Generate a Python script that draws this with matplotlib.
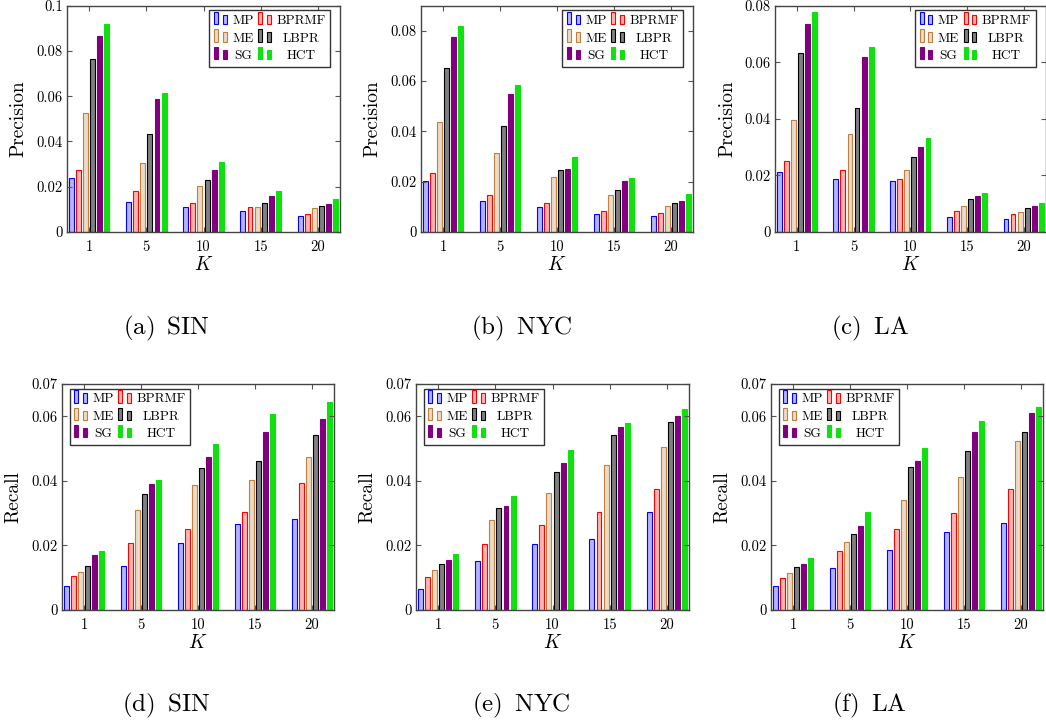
import numpy as np
import matplotlib
matplotlib.use("Agg")
import matplotlib.pyplot as plt
from matplotlib.patches import Patch, Rectangle
from matplotlib.legend_handler import HandlerBase
from matplotlib.ticker import FuncFormatter

plt.rcParams['font.family'] = 'serif'
plt.rcParams['font.serif'] = ['cmr10']
plt.rcParams['mathtext.fontset'] = 'cm'
plt.rcParams['axes.formatter.use_mathtext'] = True
plt.rcParams['axes.unicode_minus'] = False

# --- data ---
k_labels = ['1', '5', '10', '15', '20']
methods = ['MP', 'BPRMF', 'ME', 'LBPR', 'SG', 'HCT']

# rows: MP, BPRMF, ME, LBPR, SG, HCT ; cols: K = 1, 5, 10, 15, 20
sin_precision = [
    [0.0239, 0.0131, 0.0109, 0.0093, 0.0069],
    [0.0276, 0.0182, 0.0127, 0.0109, 0.0081],
    [0.0524, 0.0304, 0.0202, 0.0111, 0.0105],
    [0.0763, 0.0432, 0.0229, 0.0128, 0.0115],
    [0.0866, 0.0589, 0.0275, 0.0161, 0.0123],
    [0.0918, 0.0616, 0.0310, 0.0179, 0.0145],
]
nyc_precision = [
    [0.0201, 0.0123, 0.0100, 0.0071, 0.0063],
    [0.0233, 0.0147, 0.0116, 0.0083, 0.0075],
    [0.0436, 0.0316, 0.0218, 0.0147, 0.0104],
    [0.0651, 0.0423, 0.0246, 0.0167, 0.0115],
    [0.0774, 0.0547, 0.0249, 0.0204, 0.0123],
    [0.0821, 0.0584, 0.0299, 0.0214, 0.0151],
]
la_precision = [
    [0.0212, 0.0187, 0.0179, 0.0053, 0.0046],
    [0.0251, 0.0218, 0.0189, 0.0074, 0.0064],
    [0.0395, 0.0346, 0.0218, 0.0092, 0.0072],
    [0.0633, 0.0437, 0.0265, 0.0117, 0.0085],
    [0.0735, 0.0619, 0.0300, 0.0126, 0.0092],
    [0.0779, 0.0654, 0.0333, 0.0138, 0.0104],
]
sin_recall = [
    [0.0074, 0.0135, 0.0209, 0.0265, 0.0282],
    [0.0106, 0.0207, 0.0250, 0.0302, 0.0394],
    [0.0117, 0.0310, 0.0386, 0.0402, 0.0473],
    [0.0135, 0.0359, 0.0439, 0.0462, 0.0543],
    [0.0170, 0.0390, 0.0473, 0.0552, 0.0593],
    [0.0183, 0.0403, 0.0514, 0.0607, 0.0644],
]
nyc_recall = [
    [0.0064, 0.0153, 0.0204, 0.0219, 0.0302],
    [0.0101, 0.0205, 0.0264, 0.0303, 0.0374],
    [0.0123, 0.0280, 0.0363, 0.0448, 0.0504],
    [0.0142, 0.0317, 0.0426, 0.0542, 0.0583],
    [0.0156, 0.0321, 0.0454, 0.0566, 0.0600],
    [0.0172, 0.0352, 0.0495, 0.0579, 0.0624],
]
la_recall = [
    [0.0073, 0.0129, 0.0186, 0.0242, 0.0269],
    [0.0100, 0.0184, 0.0252, 0.0300, 0.0376],
    [0.0116, 0.0211, 0.0340, 0.0412, 0.0525],
    [0.0132, 0.0234, 0.0442, 0.0494, 0.0551],
    [0.0144, 0.0261, 0.0461, 0.0552, 0.0609],
    [0.0160, 0.0305, 0.0501, 0.0585, 0.0628],
]

edge_colors = ['#0000ff', '#ff0000', '#bf8040', '#000000', '#800080', '#10e010']
fill_colors = ['#b3b3ff', '#ffb3b3', '#ecd9c6', '#808080', '#800080', '#10e010']

W, H = 1046, 724
# (left, top, right, bottom) in pixels
panels = [
    (sin_precision, 'Precision', 0.1, [0, 0.02, 0.04, 0.06, 0.08, 0.1], (67, 5.7, 340, 232), 'upper right', '(a) $\\,$SIN', (166, 328)),
    (nyc_precision, 'Precision', 0.09, [0, 0.02, 0.04, 0.06, 0.08], (421, 5.7, 693, 232), 'upper right', '(b) $\\,$NYC', (522, 328)),
    (la_precision, 'Precision', 0.08, [0, 0.02, 0.04, 0.06, 0.08], (775, 5.7, 1045.5, 232), 'upper right', '(c) $\\,$LA', (870, 328)),
    (sin_recall, 'Recall', 0.07, [0, 0.02, 0.04, 0.06, 0.07], (62, 384, 334, 610), 'upper left', '(d) $\\,$SIN', (166, 705)),
    (nyc_recall, 'Recall', 0.07, [0, 0.02, 0.04, 0.06, 0.07], (416, 384, 689, 610), 'upper left', '(e) $\\,$NYC', (521, 705)),
    (la_recall, 'Recall', 0.07, [0, 0.02, 0.04, 0.06, 0.07], (771, 384, 1043, 610), 'upper left', '(f) $\\,$LA', (869, 705)),
]


class PairBars(HandlerBase):
    # pgfplots-like ybar legend image: two small bars
    def create_artists(self, legend, orig_handle, xdescent, ydescent,
                       width, height, fontsize, trans):
        fc = orig_handle.get_facecolor()
        ec = orig_handle.get_edgecolor()
        bw = width * 0.3
        r1 = Rectangle((-xdescent, -ydescent), bw, height * 1.3,
                       facecolor=fc, edgecolor=ec, lw=0.8, transform=trans)
        r2 = Rectangle((-xdescent + width * 0.62, -ydescent), bw, height * 1.0,
                       facecolor=fc, edgecolor=ec, lw=0.8, transform=trans)
        return [r1, r2]


fig = plt.figure(figsize=(W / 100, H / 100), dpi=100)
x = np.arange(len(k_labels))
slot = 0.125
legends = []

for data, ylab, ymax, yticks, (l, t, r, b), loc, cap, (cx, cy) in panels:
    ax = fig.add_axes([l / W, 1 - b / H, (r - l) / W, (b - t) / H])
    for i, m in enumerate(methods):
        ax.bar(x + (i - 2.5) * slot, data[i], width=0.085,
               facecolor=fill_colors[i], edgecolor=edge_colors[i], linewidth=0.8)
    ax.set_xlim(-0.385, 4.385)
    ax.set_ylim(0, ymax)
    ax.set_xticks(x)
    ax.set_xticklabels(k_labels)
    ax.set_yticks(yticks)
    ax.yaxis.set_major_formatter(FuncFormatter(lambda v, p: f"{v:g}"))
    ax.tick_params(direction='in', top=True, right=True, length=3.5, width=0.8,
                   color='#555555', labelsize=10.5)
    ax.tick_params(axis='x', pad=6)
    ax.tick_params(axis='y', pad=3)
    for s in ax.spines.values():
        s.set_color('#444444')
        s.set_linewidth(1.0)
    ax.set_ylabel(ylab, fontsize=14, va='center')
    ax.yaxis.set_label_coords(-0.177, 0.5)
    ax.set_xlabel('$K$', fontsize=14, va='center')
    ax.xaxis.set_label_coords(0.5, -0.148)

    order = [0, 2, 4, 1, 3, 5]
    handles = [Patch(facecolor=fill_colors[i], edgecolor=edge_colors[i]) for i in order]
    labels = [methods[i] for i in order]
    if loc == 'upper right':
        anchor = (1 - 10 / (r - l), 1 - 4.5 / (b - t))
    else:
        anchor = (7.5 / (r - l), 1 - 4.5 / (b - t))
    leg = ax.legend(handles, labels, loc=loc, bbox_to_anchor=anchor, borderaxespad=0,
                    ncol=2, fontsize=9.6, handler_map={Patch: PairBars()},
                    handlelength=1.05, handleheight=0.7, handletextpad=0.3,
                    columnspacing=0.35, labelspacing=0.38, borderpad=0.35,
                    fancybox=False, framealpha=1, edgecolor='#333333')
    leg.get_frame().set_linewidth(1.0)
    legends.append(leg)

    fig.text(cx / W, 1 - cy / H, cap, ha='center', va='center', fontsize=18)

# center legend labels inside their columns (as pgfplots does)
fig.canvas.draw()
renderer = fig.canvas.get_renderer()
for leg in legends:
    texts = leg.get_texts()
    for col in (texts[:3], texts[3:]):
        ws = [tx.get_window_extent(renderer).width for tx in col]
        for tx, w in zip(col, ws):
            tx.set_x((max(ws) - w) / 2)

fig.savefig('out.png', dpi=100)
